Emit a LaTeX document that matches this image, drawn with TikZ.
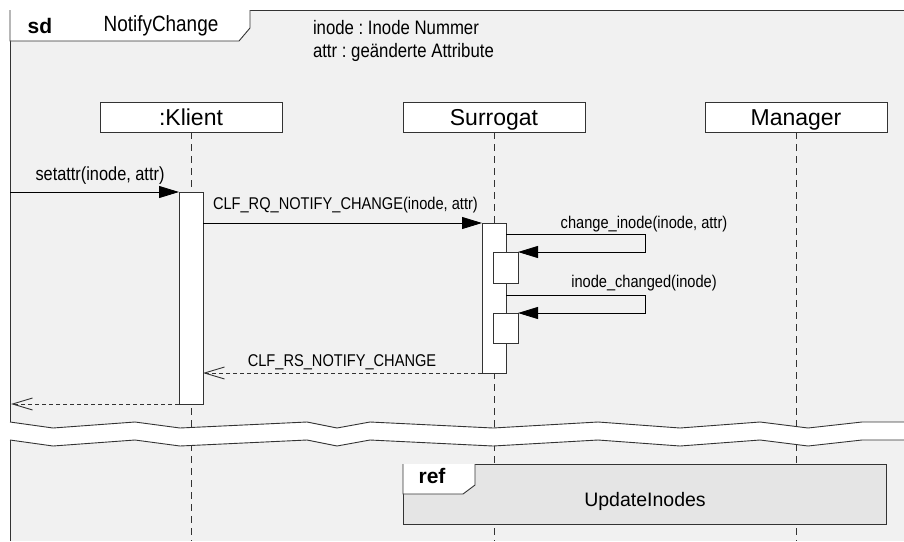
\documentclass[tikz,border=0pt]{standalone}
\usepackage{fontspec}
\setmainfont{Liberation Sans}
\newfontfamily\narrowfont[FakeStretch=0.86]{Liberation Sans}
\usetikzlibrary{arrows.meta}
\frenchspacing
\definecolor{framebg}{gray}{0.945}
\definecolor{refbg}{gray}{0.90}
\definecolor{linegray}{gray}{0.2}
\tikzset{
  x=1pt, y=-1pt,
  every node/.style={inner sep=0pt, outer sep=0pt},
  headbox/.style={draw=linegray, fill=white, line width=0.9pt, minimum width=182pt, minimum height=30pt,
    text height=21pt, text depth=4pt, font=\fontsize{23}{23}\selectfont},
  lifeline/.style={draw=linegray, line width=1pt, dash pattern=on 7pt off 5pt},
  actbox/.style={draw=linegray, fill=white, line width=0.9pt},
  msg/.style={draw=black, line width=0.9pt, -{Triangle[length=20pt, width=12pt]}},
  reply/.style={draw=linegray, line width=0.9pt, dash pattern=on 4pt off 3pt, -{Straight Barb[length=20pt, width=12pt]}},
  msglabel/.style={font=\narrowfont\fontsize{17}{17}\selectfont},
  notelabel/.style={font=\narrowfont\fontsize{19.5}{19.5}\selectfont, anchor=west},
  breakline/.style={draw=linegray, line width=0.9pt},
}
\begin{document}
\begin{tikzpicture}
\useasboundingbox (0,0) rectangle (904,541);
\fill[white] (0,0) rectangle (904,541);

% diagram frame
\fill[framebg] (10,10) rectangle (904,541);
\draw[linegray, line width=1pt] (10,541) -- (10,10) -- (904,10);

% header tab
\filldraw[fill=white, draw=linegray, line width=0.9pt] (10,10) -- (10,41) -- (239,41) -- (250,28) -- (250,10);
\node[font=\bfseries\fontsize{21}{21}\selectfont] (sd) at (40,26) {sd};
\node[font=\narrowfont\fontsize{22}{22}\selectfont] (title) at (161,26) {NotifyChange};

% notes
\node[notelabel] (note1) at (313,28) {inode : Inode Nummer};
\node[notelabel] (note2) at (313,52) {attr : geänderte Attribute};

% lifeline heads
\node[headbox] (klient) at (191,117) {:Klient};
\node[headbox] (surrogat) at (494,117) {Surrogat};
\node[headbox] (manager) at (796,117) {Manager};

% lifelines
\coordinate (kend) at (191,541);
\coordinate (send) at (494,541);
\coordinate (mend) at (796,541);
\draw[lifeline] (klient.south) -- (kend);
\draw[lifeline] (surrogat.south) -- (send);
\draw[lifeline] (manager.south) -- (mend);

% activations
\node[actbox, minimum width=24pt, minimum height=212pt] (kact) at (191,298) {};
\node[actbox, minimum width=24pt, minimum height=150pt] (sact) at (494,298) {};
\node[actbox, minimum width=25pt, minimum height=31pt] (nact1) at (505.5,267.5) {};
\node[actbox, minimum width=25pt, minimum height=30pt] (nact2) at (505.5,328) {};

% incoming call
\coordinate (found) at (10,192);
\draw[msg] (found) -- (kact.north west);
\node[msglabel, font=\narrowfont\fontsize{19}{19}\selectfont] (l1) at (100,176) {setattr(inode, attr)};

% request to Surrogat
\draw[msg] (kact.east |- sact.north) -- (sact.north west);
\node[msglabel, anchor=west] (l2) at (213,205) {CLF\_RQ\_NOTIFY\_CHANGE(inode, attr)};

% self calls
\coordinate (s1a) at (645,234);
\coordinate (s1b) at (645,252);
\draw[msg] (sact.east |- s1a) -- (s1a) -- (s1b) -- (nact1.north east);
\node[msglabel] (l3) at (644,224) {change\_inode(inode, attr)};
\coordinate (s2a) at (645,295);
\coordinate (s2b) at (645,313);
\draw[msg] (sact.east |- s2a) -- (s2a) -- (s2b) -- (nact2.north east);
\node[msglabel] (l4) at (644,283) {inode\_changed(inode)};

% replies
\draw[reply] (sact.south west) -- (kact.east |- sact.south);
\node[msglabel] (l5) at (342,362) {CLF\_RS\_NOTIFY\_CHANGE};
\coordinate (lost) at (11,404);
\draw[reply] (kact.south west) -- (lost);

% time break
\fill[white]
  (10,422) -- (53,428) -- (135,422) -- (180,428) -- (307,422) -- (337,428) -- (370,422) -- (493,428)
  -- (598,422) -- (680,428) -- (760,422) -- (808,428) -- (862,422) -- (905,422)
  -- (905,440) -- (862,440) -- (808,446) -- (760,440) -- (680,446) -- (598,440) -- (493,446)
  -- (370,440) -- (337,446) -- (307,440) -- (180,446) -- (135,440) -- (53,446) -- (10,440) -- cycle;
\draw[breakline] (10,422) -- (53,428) -- (135,422) -- (180,428) -- (307,422) -- (337,428) -- (370,422) -- (493,428)
  -- (598,422) -- (680,428) -- (760,422) -- (808,428) -- (862,422) -- (905,422);
\draw[breakline] (10,440) -- (53,446) -- (135,440) -- (180,446) -- (307,440) -- (337,446) -- (370,440) -- (493,446)
  -- (598,440) -- (680,446) -- (760,440) -- (808,446) -- (862,440) -- (905,440);

% interaction use
\node[draw=linegray, fill=refbg, line width=0.9pt, minimum width=483pt, minimum height=60pt] (refbox) at (644.5,494) {};
\filldraw[fill=white, draw=linegray, line width=0.9pt] (refbox.north west) -- (403,494) -- (463,494) -- (475,485) -- (475,464);
\node[font=\bfseries\fontsize{21}{21}\selectfont] (reflabel) at (432,476) {ref};
\node[font=\fontsize{19.5}{19.5}\selectfont] (refname) at (645,501) {UpdateInodes};
\end{tikzpicture}
\end{document}
